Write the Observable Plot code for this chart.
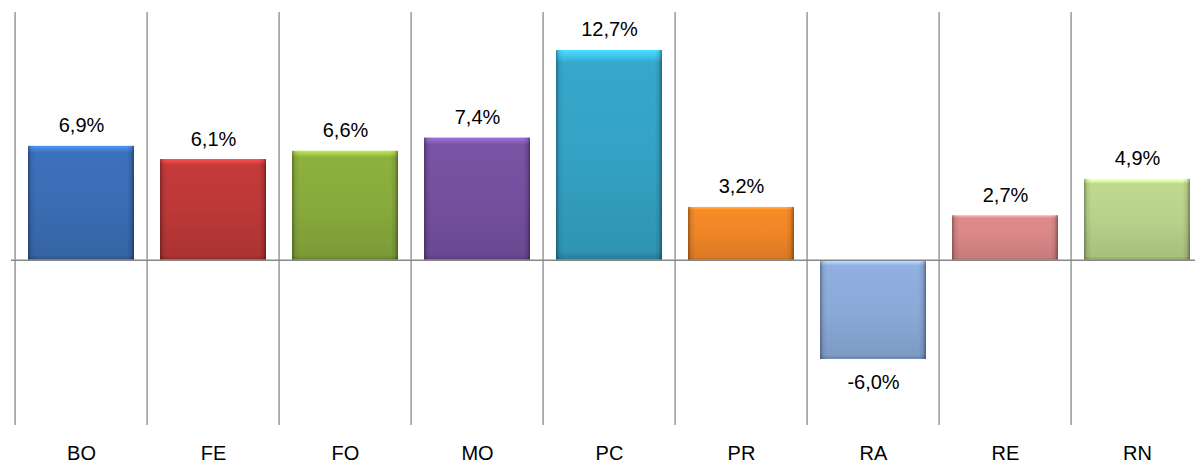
<!DOCTYPE html>
<html>
<head>
<meta charset="utf-8">
<script src="https://cdn.jsdelivr.net/npm/d3@7"></script>
<script src="https://cdn.jsdelivr.net/npm/@observablehq/plot@0.6"></script>
<style>
  html, body { margin: 0; padding: 0; background: #fff; }
  svg { display: block; }
</style>
</head>
<body>
<div id="chart"></div>
<script>
const categories = ["BO", "FE", "FO", "MO", "PC", "PR", "RA", "RE", "RN"];
const values = [6.9, 6.1, 6.6, 7.4, 12.7, 3.2, -6.0, 2.7, 4.9];
const colors = ["#3a6db4", "#bd3838", "#88aa3c", "#75509f", "#34a2c4", "#ee8526", "#8aaad8", "#d88686", "#b8d18a"];

const data = categories.map((c, i) => ({cat: c, value: values[i], grad: `url(#grad${i})`}));
const fmt = v => (v < 0 ? "-" : "") + Math.abs(v).toFixed(1).replace(".", ",") + "%";

const W = 1195, H = 463;
const xRange = [11, 1206];
const step = (xRange[1] - xRange[0]) / categories.length;
const font = "'Liberation Sans', Arial, sans-serif";
const fs = 20;

const plot = Plot.plot({
  width: W,
  height: H,
  marginTop: 12,
  marginBottom: 38,
  marginLeft: 11,
  marginRight: 0,
  style: {fontFamily: font, fontSize: fs + "px", color: "#000", background: "#fff"},
  x: {domain: categories, range: xRange, paddingInner: 0.2, paddingOuter: 0.1, label: null, tickSize: 0, tickPadding: 20},
  y: {domain: [-10, 15], axis: null},
  color: {type: "identity"},
  marks: [
    Plot.ruleX(categories, {x: d => d, dx: -step / 2, y1: -10, y2: 15, stroke: "#999", strokeWidth: 1.5}),
    Plot.barY(data, {x: "cat", y: "value", fill: "grad"}),
    Plot.barY(data, {x: "cat", y: "value", fill: "url(#edge)"}),
    Plot.ruleY([0], {stroke: "#888", strokeWidth: 1.5}),
    Plot.axisX({tickSize: 0, tickPadding: 20, fontSize: fs, fill: "#000"}),
    Plot.text(data.filter(d => d.value >= 0), {x: "cat", y: "value", text: d => fmt(d.value), lineAnchor: "bottom", dy: -14, fill: "#000", fontSize: fs}),
    Plot.text(data.filter(d => d.value < 0), {x: "cat", y: "value", text: d => fmt(d.value), lineAnchor: "top", dy: 15, fill: "#000", fontSize: fs})
  ]
});

const svg = d3.select(plot);
const defs = svg.insert("defs", ":first-child");
colors.forEach((c, i) => {
  const g = defs.append("linearGradient").attr("id", `grad${i}`)
    .attr("x1", 0).attr("y1", 0).attr("x2", 0).attr("y2", 1);
  const base = d3.color(c);
  const stops = [
    [0, base.brighter(0.9)],
    [0.025, base.brighter(0.6)],
    [0.06, base.brighter(0.1)],
    [0.5, base],
    [0.96, base.darker(0.25)],
    [1, base.darker(0.8)]
  ];
  stops.forEach(([o, col]) => g.append("stop").attr("offset", o).attr("stop-color", col.formatHex()));
});
const e = defs.append("linearGradient").attr("id", "edge").attr("x1", 0).attr("y1", 0).attr("x2", 1).attr("y2", 0);
[[0, "#000", 0.35], [0.03, "#000", 0.08], [0.07, "#000", 0], [0.93, "#000", 0], [0.97, "#000", 0.1], [1, "#000", 0.4]]
  .forEach(([o, col, a]) => e.append("stop").attr("offset", o).attr("stop-color", col).attr("stop-opacity", a));

document.getElementById("chart").appendChild(plot);
</script>
</body>
</html>
